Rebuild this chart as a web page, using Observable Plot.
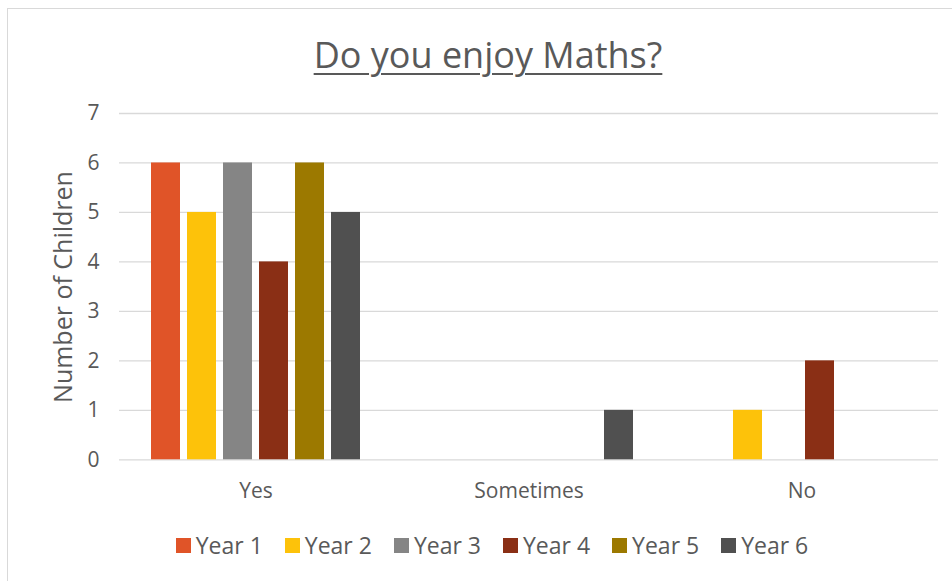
<!DOCTYPE html>
<html>
<head>
<meta charset="utf-8">
<script src="https://cdn.jsdelivr.net/npm/d3@7"></script>
<script src="https://cdn.jsdelivr.net/npm/@observablehq/plot@0.6"></script>
<style>
  body { margin: 0; background: #fff; }
  #chart { position: relative; width: 952px; height: 581px; overflow: hidden; font-family: "Open Sans", sans-serif; color: #595959; }
  #frame { position: absolute; left: 7px; top: 8px; width: 980px; height: 620px; border: 1px solid #d9d9d9; box-sizing: border-box; }
  #title { position: absolute; left: 0; width: 976px; top: 30px; text-align: center; font-size: 36px; text-decoration: underline; text-decoration-thickness: 2px; text-underline-offset: 5px; }
  #ylabel { position: absolute; left: 62px; top: 287px; transform: translate(-50%, -50%) rotate(-90deg); font-size: 25px; white-space: nowrap; }
  #plot { position: absolute; left: 0; top: 84px; }
  #legend { position: absolute; left: 0; width: 984px; top: 529px; display: flex; justify-content: center; font-size: 23px; }
  .item { display: flex; align-items: center; margin: 0 11px; }
  .sw { width: 15px; height: 15px; margin-right: 5px; }
</style>
</head>
<body>
<div id="chart">
  <div id="frame"></div>
  <div id="title"></div>
  <div id="ylabel"></div>
  <div id="plot"></div>
  <div id="legend"></div>
</div>
<script>
const title = "Do you enjoy Maths?";
const yLabel = "Number of Children";
const categories = ["Yes", "Sometimes", "No"];
const series = ["Year 1", "Year 2", "Year 3", "Year 4", "Year 5", "Year 6"];
const year1 = [6, 0, 0];
const year2 = [5, 0, 1];
const year3 = [6, 0, 0];
const year4 = [4, 0, 2];
const year5 = [6, 0, 0];
const year6 = [5, 1, 0];
const colors = ["#E05428", "#FDC20A", "#858585", "#8A2F15", "#9C7900", "#505050"];
const yTicks = [0, 1, 2, 3, 4, 5, 6, 7];

const values = [year1, year2, year3, year4, year5, year6];
const data = [];
series.forEach((s, i) => categories.forEach((c, j) => {
  if (values[i][j] > 0) data.push({cat: c, series: s, value: values[i][j]});
}));

document.getElementById("title").textContent = title;
document.getElementById("ylabel").textContent = yLabel;

const chart = Plot.plot({
  width: 952,
  height: 436,
  marginLeft: 119,
  marginRight: 14,
  marginTop: 29,
  marginBottom: 60.7,
  style: {fontFamily: "Open Sans, sans-serif", color: "#595959", background: "transparent"},
  fx: {domain: categories, padding: 0, label: null},
  x: {domain: series, paddingInner: 0.2, paddingOuter: 0.86, axis: null},
  y: {domain: [0, 7]},
  color: {domain: series, range: colors},
  marks: [
    Plot.ruleY(yTicks, {stroke: "#d9d9d9", strokeWidth: 1.3}),
    Plot.barY(data, {fx: "cat", x: "series", y: "value", fill: "series"}),
    Plot.axisY({ticks: yTicks, tickSize: 0, tickPadding: 20, label: null, fontSize: 21, tickFormat: d => String(d)}),
    Plot.axisFx({anchor: "bottom", tickSize: 0, tickPadding: 23, label: null, fontSize: 21})
  ]
});
document.getElementById("plot").appendChild(chart);

const legend = document.getElementById("legend");
series.forEach((s, i) => {
  const item = document.createElement("div");
  item.className = "item";
  const sw = document.createElement("div");
  sw.className = "sw";
  sw.style.background = colors[i];
  const t = document.createElement("span");
  t.textContent = s;
  item.appendChild(sw);
  item.appendChild(t);
  legend.appendChild(item);
});
</script>
</body>
</html>
